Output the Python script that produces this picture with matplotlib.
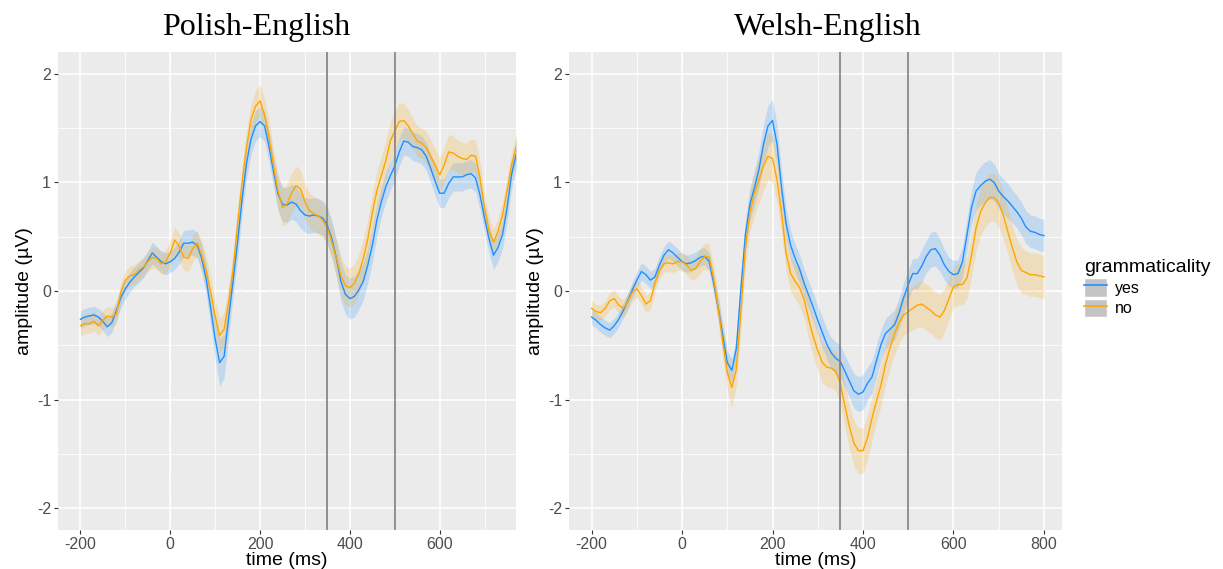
import numpy as np
import matplotlib.pyplot as plt
from matplotlib.patches import Patch
from matplotlib.lines import Line2D

# ── data (10 ms steps) ───────────────────────────────────────────────
time_ms = np.arange(-200, 801, 10)

polish_yes = [
    -0.26, -0.24, -0.23, -0.22, -0.24, -0.28, -0.33, -0.29, -0.18, -0.06,
    0.02, 0.08, 0.13, 0.17, 0.21, 0.28, 0.35, 0.31, 0.27, 0.25,
    0.27, 0.30, 0.36, 0.44, 0.44, 0.45, 0.42, 0.30, 0.11, -0.16,
    -0.44, -0.66, -0.60, -0.25, 0.10, 0.45, 0.85, 1.18, 1.40, 1.52,
    1.56, 1.52, 1.33, 1.10, 0.89, 0.80, 0.79, 0.82, 0.80, 0.74,
    0.70, 0.69, 0.70, 0.69, 0.67, 0.60, 0.48, 0.30, 0.09, -0.03,
    -0.07, -0.05, 0.01, 0.09, 0.24, 0.42, 0.65, 0.82, 0.96, 1.06,
    1.15, 1.28, 1.38, 1.37, 1.33, 1.32, 1.30, 1.24, 1.13, 1.01,
    0.90, 0.90, 0.99, 1.05, 1.05, 1.05, 1.07, 1.08, 1.04, 0.88,
    0.67, 0.48, 0.33, 0.40, 0.52, 0.76, 1.07, 1.25, 1.35, 1.40,
    1.42,
]
polish_no = [
    -0.32, -0.30, -0.30, -0.28, -0.32, -0.27, -0.23, -0.24, -0.21, -0.01,
    0.10, 0.14, 0.15, 0.19, 0.22, 0.27, 0.31, 0.30, 0.25, 0.27,
    0.35, 0.47, 0.41, 0.31, 0.30, 0.39, 0.44, 0.33, 0.18, -0.01,
    -0.23, -0.41, -0.35, -0.10, 0.20, 0.62, 1.00, 1.33, 1.58, 1.70,
    1.75, 1.62, 1.42, 1.15, 0.92, 0.77, 0.80, 0.90, 0.97, 0.94,
    0.82, 0.74, 0.71, 0.69, 0.65, 0.58, 0.45, 0.30, 0.14, 0.05,
    0.03, 0.07, 0.16, 0.30, 0.48, 0.72, 0.92, 1.06, 1.20, 1.38,
    1.47, 1.56, 1.57, 1.52, 1.45, 1.38, 1.36, 1.32, 1.24, 1.16,
    1.07, 1.16, 1.28, 1.27, 1.24, 1.22, 1.21, 1.25, 1.24, 1.04,
    0.76, 0.55, 0.45, 0.55, 0.70, 0.92, 1.16, 1.32, 1.42, 1.48,
    1.50,
]
polish_yes_se = [
    0.08, 0.08, 0.08, 0.08, 0.08, 0.08, 0.09, 0.09, 0.09, 0.09,
    0.09, 0.09, 0.09, 0.09, 0.09, 0.09, 0.10, 0.10, 0.10, 0.10,
    0.10, 0.10, 0.11, 0.12, 0.12, 0.12, 0.12, 0.13, 0.14, 0.15,
    0.18, 0.22, 0.20, 0.17, 0.15, 0.15, 0.14, 0.14, 0.14, 0.14,
    0.14, 0.14, 0.14, 0.14, 0.15, 0.16, 0.16, 0.16, 0.16, 0.16,
    0.16, 0.16, 0.16, 0.16, 0.16, 0.17, 0.17, 0.17, 0.18, 0.18,
    0.19, 0.19, 0.18, 0.17, 0.16, 0.16, 0.15, 0.14, 0.14, 0.13,
    0.13, 0.13, 0.13, 0.13, 0.13, 0.13, 0.13, 0.13, 0.13, 0.13,
    0.13, 0.13, 0.13, 0.13, 0.13, 0.13, 0.13, 0.13, 0.13, 0.13,
    0.13, 0.13, 0.13, 0.13, 0.13, 0.13, 0.13, 0.13, 0.13, 0.13,
    0.13,
]
polish_no_se = [
    0.09, 0.09, 0.09, 0.09, 0.09, 0.09, 0.09, 0.09, 0.09, 0.09,
    0.09, 0.09, 0.09, 0.09, 0.09, 0.09, 0.10, 0.10, 0.10, 0.11,
    0.12, 0.12, 0.12, 0.12, 0.12, 0.12, 0.12, 0.13, 0.14, 0.14,
    0.15, 0.16, 0.16, 0.16, 0.15, 0.15, 0.15, 0.15, 0.15, 0.15,
    0.15, 0.15, 0.15, 0.15, 0.16, 0.17, 0.18, 0.18, 0.18, 0.17,
    0.16, 0.16, 0.16, 0.16, 0.16, 0.16, 0.16, 0.17, 0.18, 0.18,
    0.18, 0.18, 0.18, 0.18, 0.18, 0.18, 0.18, 0.18, 0.18, 0.18,
    0.18, 0.17, 0.16, 0.15, 0.14, 0.14, 0.14, 0.15, 0.15, 0.15,
    0.16, 0.16, 0.16, 0.16, 0.15, 0.15, 0.15, 0.15, 0.15, 0.14,
    0.13, 0.13, 0.12, 0.12, 0.12, 0.12, 0.12, 0.12, 0.12, 0.12,
    0.12,
]

welsh_yes = [
    -0.24, -0.27, -0.31, -0.34, -0.36, -0.32, -0.26, -0.18, -0.09, 0.01,
    0.10, 0.18, 0.15, 0.10, 0.13, 0.24, 0.33, 0.38, 0.35, 0.31,
    0.27, 0.25, 0.26, 0.28, 0.31, 0.32, 0.27, 0.07, -0.16, -0.41,
    -0.66, -0.73, -0.53, 0.02, 0.52, 0.80, 0.95, 1.12, 1.35, 1.52,
    1.57, 1.35, 0.95, 0.62, 0.42, 0.30, 0.20, 0.07, -0.04, -0.15,
    -0.27, -0.38, -0.49, -0.57, -0.62, -0.65, -0.74, -0.83, -0.92, -0.95,
    -0.93, -0.85, -0.79, -0.64, -0.49, -0.39, -0.35, -0.31, -0.20, -0.06,
    0.06, 0.16, 0.16, 0.23, 0.32, 0.38, 0.39, 0.33, 0.24, 0.18,
    0.15, 0.16, 0.27, 0.52, 0.77, 0.92, 0.97, 1.01, 1.03, 1.00,
    0.92, 0.87, 0.83, 0.78, 0.73, 0.67, 0.59, 0.55, 0.54, 0.52,
    0.51,
]
welsh_no = [
    -0.16, -0.19, -0.20, -0.16, -0.09, -0.07, -0.13, -0.16, -0.10, -0.01,
    0.02, -0.04, -0.12, -0.09, 0.07, 0.19, 0.25, 0.26, 0.25, 0.27,
    0.27, 0.24, 0.19, 0.21, 0.27, 0.32, 0.31, 0.11, -0.16, -0.47,
    -0.75, -0.89, -0.72, -0.20, 0.40, 0.72, 0.90, 1.02, 1.15, 1.24,
    1.22, 1.02, 0.72, 0.35, 0.16, 0.09, 0.03, -0.08, -0.26, -0.42,
    -0.55, -0.66, -0.70, -0.71, -0.74, -0.85, -1.06, -1.25, -1.40, -1.47,
    -1.47, -1.35, -1.17, -1.01, -0.86, -0.67, -0.52, -0.39, -0.29, -0.22,
    -0.19, -0.16, -0.13, -0.12, -0.15, -0.18, -0.22, -0.24, -0.18, -0.07,
    0.04, 0.06, 0.06, 0.12, 0.33, 0.58, 0.73, 0.81, 0.86, 0.86,
    0.81, 0.70, 0.55, 0.40, 0.27, 0.19, 0.17, 0.15, 0.15, 0.14,
    0.13,
]
welsh_yes_se = [
    0.07, 0.07, 0.07, 0.07, 0.07, 0.07, 0.07, 0.07, 0.07, 0.07,
    0.08, 0.08, 0.08, 0.08, 0.08, 0.08, 0.08, 0.08, 0.08, 0.08,
    0.08, 0.08, 0.08, 0.08, 0.08, 0.08, 0.08, 0.09, 0.10, 0.10,
    0.11, 0.11, 0.11, 0.12, 0.14, 0.15, 0.16, 0.17, 0.18, 0.19,
    0.19, 0.18, 0.16, 0.14, 0.13, 0.13, 0.13, 0.13, 0.13, 0.13,
    0.13, 0.14, 0.14, 0.14, 0.15, 0.15, 0.15, 0.15, 0.16, 0.16,
    0.16, 0.15, 0.15, 0.15, 0.14, 0.14, 0.14, 0.14, 0.14, 0.14,
    0.14, 0.14, 0.14, 0.15, 0.15, 0.16, 0.16, 0.15, 0.14, 0.13,
    0.13, 0.13, 0.14, 0.15, 0.16, 0.17, 0.18, 0.18, 0.18, 0.17,
    0.16, 0.16, 0.16, 0.15, 0.15, 0.15, 0.15, 0.15, 0.15, 0.15,
    0.15,
]
welsh_no_se = [
    0.07, 0.07, 0.07, 0.07, 0.08, 0.08, 0.08, 0.08, 0.08, 0.08,
    0.08, 0.08, 0.08, 0.08, 0.08, 0.08, 0.08, 0.08, 0.08, 0.08,
    0.08, 0.09, 0.09, 0.10, 0.11, 0.12, 0.12, 0.13, 0.14, 0.15,
    0.16, 0.18, 0.16, 0.15, 0.16, 0.18, 0.20, 0.21, 0.22, 0.22,
    0.22, 0.21, 0.19, 0.17, 0.16, 0.16, 0.17, 0.17, 0.18, 0.18,
    0.18, 0.18, 0.18, 0.18, 0.18, 0.19, 0.20, 0.20, 0.21, 0.21,
    0.21, 0.21, 0.20, 0.20, 0.19, 0.19, 0.19, 0.19, 0.19, 0.19,
    0.19, 0.20, 0.21, 0.21, 0.21, 0.21, 0.21, 0.21, 0.20, 0.20,
    0.19, 0.19, 0.19, 0.19, 0.20, 0.21, 0.22, 0.22, 0.22, 0.22,
    0.22, 0.22, 0.21, 0.21, 0.21, 0.21, 0.20, 0.20, 0.20, 0.20,
    0.20,
]

PANELS = [
    # title, yes, yes_se, no, no_se, xlim, axes rect, title centre (px)
    ("Polish-English", polish_yes, polish_yes_se, polish_no, polish_no_se,
     (-250, 770), [58 / 1223, 39 / 569, 458 / 1223, 478 / 569], 256),
    ("Welsh-English", welsh_yes, welsh_yes_se, welsh_no, welsh_no_se,
     (-250, 840), [569 / 1223, 39 / 569, 493 / 1223, 478 / 569], 828),
]

YES_COLOR = "#1E90FF"
NO_COLOR = "#FFA500"
BG = "#EBEBEB"
TICK_COLOR = "#4D4D4D"

plt.rcParams["font.family"] = ["Liberation Sans", "DejaVu Sans"]
plt.rcParams["axes.unicode_minus"] = False

fig = plt.figure(figsize=(12.23, 5.69), dpi=100)

for title, yes, yes_se, no, no_se, xlim, rect, title_x in PANELS:
    ax = fig.add_axes(rect)
    ax.set_facecolor(BG)
    for s in ax.spines.values():
        s.set_visible(False)

    yes = np.array(yes)
    no = np.array(no)
    yes_se = np.array(yes_se)
    no_se = np.array(no_se)

    ax.set_xlim(*xlim)
    ax.set_ylim(-2.2, 2.2)
    ax.set_xticks(np.arange(-200, xlim[1], 200))
    ax.set_xticks(np.arange(-100, xlim[1], 200), minor=True)
    ax.set_yticks([-2, -1, 0, 1, 2])
    ax.set_yticks([-1.5, -0.5, 0.5, 1.5], minor=True)
    ax.grid(which="major", color="white", lw=1.1)
    ax.grid(which="minor", color="white", lw=0.55)
    ax.set_axisbelow(True)
    ax.tick_params(which="minor", length=0)
    ax.tick_params(which="major", length=3, color="#333333",
                   labelcolor=TICK_COLOR, labelsize=11.5, pad=2)

    # zero reference lines
    ax.axhline(0, color="white", ls=(0, (4, 3)), lw=1.0, zorder=1)
    ax.axvline(0, color="white", ls=(0, (4, 3)), lw=1.0, zorder=1)

    ax.fill_between(time_ms, yes - yes_se, yes + yes_se,
                    color=YES_COLOR, alpha=0.2, lw=0, zorder=2)
    ax.fill_between(time_ms, no - no_se, no + no_se,
                    color=NO_COLOR, alpha=0.2, lw=0, zorder=2)
    ax.plot(time_ms, yes, color=YES_COLOR, lw=1.0, zorder=3)
    ax.plot(time_ms, no, color=NO_COLOR, lw=1.0, zorder=3)

    # analysis window
    for xv in (350, 500):
        ax.axvline(xv, color="#7F7F7F", lw=1.2, zorder=4)

    ax.set_xlabel("time (ms)", fontsize=14, labelpad=0)
    ax.set_ylabel("amplitude (\u00b5V)", fontsize=14, labelpad=3)

    fig.text(title_x / 1223, 1 - 28 / 569, title, ha="center", va="center",
             fontsize=23, family="Liberation Serif")

# legend
handles = [
    (Patch(facecolor="#C4C4C4", edgecolor="white"), Line2D([], [], color=YES_COLOR, lw=1.2)),
    (Patch(facecolor="#C4C4C4", edgecolor="white"), Line2D([], [], color=NO_COLOR, lw=1.2)),
]
fig.legend(handles, ["yes", "no"], title="grammaticality",
           loc="center left", bbox_to_anchor=(1078 / 1223, 1 - 288 / 569),
           frameon=False, fontsize=11.5, title_fontsize=14,
           handlelength=1.4, handleheight=1.4, handletextpad=0.5,
           labelspacing=0.15, borderaxespad=0, alignment="left")

fig.savefig("out.png", dpi=100)
plt.close(fig)
